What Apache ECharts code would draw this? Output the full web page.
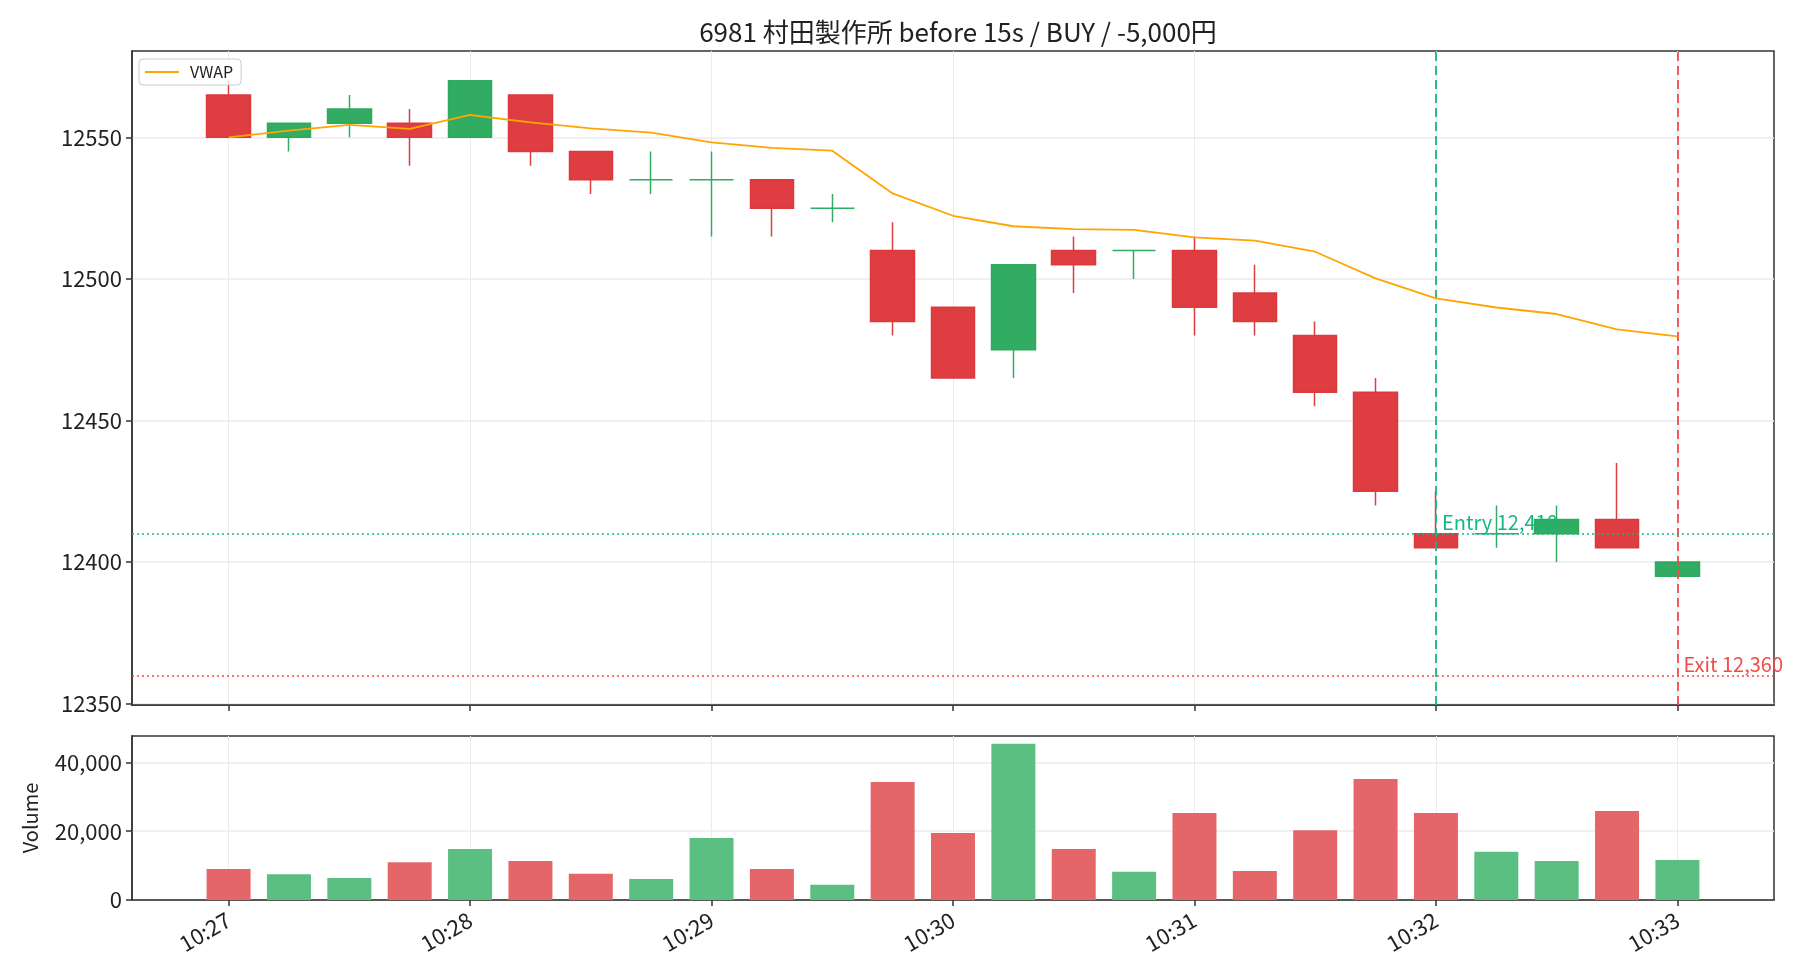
<!DOCTYPE html>
<html>
<head>
<meta charset="utf-8">
<title>6981 村田製作所</title>
<script src="https://cdn.jsdelivr.net/npm/echarts@6/dist/echarts.min.js"></script>
<style>
  html, body { margin: 0; padding: 0; background: #fff; }
  #chart { width: 1820px; height: 980px; }
</style>
</head>
<body>
<div id="chart"></div>
<script>
// 15秒足 (10:27:00 - 10:33:00)
const times = ['10:27:00', '10:27:15', '10:27:30', '10:27:45', '10:28:00', '10:28:15', '10:28:30', '10:28:45',
  '10:29:00', '10:29:15', '10:29:30', '10:29:45', '10:30:00', '10:30:15', '10:30:30', '10:30:45',
  '10:31:00', '10:31:15', '10:31:30', '10:31:45', '10:32:00', '10:32:15', '10:32:30', '10:32:45', '10:33:00'];
const opens = [12565, 12550, 12555, 12555, 12550, 12565, 12545, 12535, 12535, 12535, 12525, 12510, 12490,
  12475, 12510, 12510, 12510, 12495, 12480, 12460, 12410, 12410, 12410, 12415, 12395];
const closes = [12550, 12555, 12560, 12550, 12570, 12545, 12535, 12535, 12535, 12525, 12525, 12485, 12465,
  12505, 12505, 12510, 12490, 12485, 12460, 12425, 12405, 12410, 12415, 12405, 12400];
const lows = [12550, 12545, 12550, 12540, 12550, 12540, 12530, 12530, 12515, 12515, 12520, 12480, 12465,
  12465, 12495, 12500, 12480, 12480, 12455, 12420, 12405, 12405, 12400, 12405, 12395];
const highs = [12570, 12555, 12565, 12560, 12570, 12565, 12545, 12545, 12545, 12535, 12530, 12520, 12490,
  12505, 12515, 12510, 12515, 12505, 12485, 12465, 12425, 12420, 12420, 12435, 12400];
const vwap = [12550, 12552.4, 12554.4, 12553, 12557.9, 12555.3, 12553.2, 12551.7, 12548.2, 12546.3, 12545.3,
  12530.2, 12522.3, 12518.6, 12517.6, 12517.3, 12514.7, 12513.5, 12509.6, 12500.2, 12493.1, 12489.9,
  12487.6, 12482.2, 12479.7];
const volumes = [9000, 7500, 6400, 11000, 14800, 11300, 7600, 6100, 18000, 9000, 4400, 34300, 19500,
  45400, 14800, 8200, 25300, 8400, 20300, 35200, 25300, 14000, 11300, 25900, 11600];

const xTickLabels = ['10:27', '10:28', '10:29', '10:30', '10:31', '10:32', '10:33'];
const priceTicks = [12350, 12400, 12450, 12500, 12550];
const volumeTicks = [0, 20000, 40000];

const entryTime = '10:32:00', entryPrice = 12410;
const exitTime = '10:33:00', exitPrice = 12360;

const FONT = '"Noto Sans CJK JP", "Noto Sans", sans-serif';
const UP = '#27a85a', DOWN = '#dc3438';
const VOL_UP = '#5bbf81', VOL_DOWN = '#e46668';
const ENTRY_C = '#12b981', EXIT_C = '#f24b4b';
const AXIS_C = '#333';

// 10:27 からの経過分
function toX(t) {
  const p = t.split(':').map(Number);
  return p[0] * 60 + p[1] + (p[2] || 0) / 60 - (10 * 60 + 27);
}
const tickX = xTickLabels.map(toX);
function fmtTime(v) {
  const i = tickX.findIndex(x => Math.abs(x - v) < 1e-6);
  return i >= 0 ? xTickLabels[i] : '';
}
const yen = v => v.toLocaleString('en-US');

const xMin = -0.4, xMax = 6.4;

function makeX(gridIndex, showLabel) {
  return {
    type: 'value', gridIndex: gridIndex, min: xMin, max: xMax, splitNumber: 7,
    axisLine: { show: true, onZero: false, lineStyle: { color: AXIS_C, width: 1.5 } },
    axisTick: { show: true, customValues: tickX, length: 6, lineStyle: { color: AXIS_C, width: 1.5 } },
    axisLabel: {
      show: showLabel, customValues: tickX, formatter: fmtTime, rotate: 30, margin: 18,
      fontFamily: FONT, fontSize: 22, color: '#222'
    },
    splitLine: { show: true, lineStyle: { color: '#ebebeb', width: 1 } }
  };
}

const chart = echarts.init(document.getElementById('chart'));

const option = {
  animation: false,
  backgroundColor: '#fff',
  title: {
    text: '6981 村田製作所 before 15s / BUY / -5,000円',
    left: 953, top: 14, textAlign: 'center',
    textStyle: { fontFamily: FONT, fontSize: 26, fontWeight: 'normal', color: '#222' }
  },
  legend: {
    data: ['VWAP'], left: 139, top: 59, icon: 'rect', itemWidth: 34, itemHeight: 2,
    padding: [5, 8, 5, 6], borderColor: '#cccccc', borderWidth: 1, borderRadius: 4,
    backgroundColor: 'rgba(255,255,255,0.8)',
    textStyle: { fontFamily: FONT, fontSize: 16, color: '#222', padding: [0, 0, 0, 6] }
  },
  grid: [
    { left: 132, right: 46, top: 51, height: 654, show: true, borderColor: AXIS_C, borderWidth: 1.5 },
    { left: 132, right: 46, top: 736, height: 164, show: true, borderColor: AXIS_C, borderWidth: 1.5 }
  ],
  xAxis: [makeX(0, false), makeX(1, true)],
  yAxis: [
    {
      type: 'value', gridIndex: 0, min: 12349.5, max: 12580.5, splitNumber: 5, scale: true,
      axisLine: { show: true, onZero: false, lineStyle: { color: AXIS_C, width: 1.5 } },
      axisTick: { show: true, customValues: priceTicks, length: 6, lineStyle: { color: AXIS_C, width: 1.5 } },
      axisLabel: { customValues: priceTicks, formatter: v => String(v), margin: 10,
        fontFamily: FONT, fontSize: 22, color: '#222' },
      splitLine: { show: true, lineStyle: { color: '#ebebeb', width: 1.5 } }
    },
    {
      type: 'value', gridIndex: 1, min: 0, max: 47670, splitNumber: 2,
      name: 'Volume', nameLocation: 'middle', nameGap: 92, nameRotate: 90,
      nameTextStyle: { fontFamily: FONT, fontSize: 20, color: '#222' },
      axisLine: { show: true, onZero: false, lineStyle: { color: AXIS_C, width: 1.5 } },
      axisTick: { show: true, customValues: volumeTicks, length: 6, lineStyle: { color: AXIS_C, width: 1.5 } },
      axisLabel: { customValues: volumeTicks, formatter: yen, margin: 10, fontFamily: FONT, fontSize: 22, color: '#222' },
      splitLine: { show: true, lineStyle: { color: '#ebebeb', width: 1.5 } }
    }
  ],
  series: [
    {
      name: 'Price', type: 'candlestick', xAxisIndex: 0, yAxisIndex: 0,
      data: times.map((t, i) => [toX(t), opens[i], closes[i], lows[i], highs[i]]),
      encode: { x: 0, y: [1, 2, 3, 4] },
      barWidth: 44,
      itemStyle: { color: UP, color0: DOWN, borderColor: UP, borderColor0: DOWN, borderWidth: 1.5, opacity: 0.95 },
      markLine: {
        silent: true, symbol: ['none', 'none'], label: { show: false },
        data: [
          { xAxis: toX(entryTime), lineStyle: { color: ENTRY_C, type: [9, 5], width: 1.8 } },
          { xAxis: toX(exitTime), lineStyle: { color: EXIT_C, type: [9, 5], width: 1.8 } },
          { yAxis: entryPrice, lineStyle: { color: ENTRY_C, type: [2, 3], width: 1.5 } },
          { yAxis: exitPrice, lineStyle: { color: EXIT_C, type: [2, 3], width: 1.5 } }
        ]
      },
      markPoint: {
        silent: true, symbol: 'circle', symbolSize: 0,
        data: [
          {
            coord: [toX(entryTime), entryPrice],
            label: { show: true, formatter: 'Entry ' + yen(entryPrice), position: [6, -1],
              align: 'left', verticalAlign: 'bottom', fontFamily: FONT, fontSize: 20, color: ENTRY_C }
          },
          {
            coord: [toX(exitTime), exitPrice],
            label: { show: true, formatter: 'Exit ' + yen(exitPrice), position: [6, -1],
              align: 'left', verticalAlign: 'bottom', fontFamily: FONT, fontSize: 20, color: EXIT_C }
          }
        ]
      }
    },
    {
      name: 'VWAP', type: 'line', xAxisIndex: 0, yAxisIndex: 0, z: 5,
      data: times.map((t, i) => [toX(t), vwap[i]]),
      symbol: 'none', showSymbol: false,
      lineStyle: { color: '#ffa500', width: 1.8 },
      itemStyle: { color: '#ffa500' }
    },
    {
      name: 'Volume', type: 'bar', xAxisIndex: 1, yAxisIndex: 1, barWidth: 44,
      data: times.map((t, i) => ({
        value: [toX(t), volumes[i]],
        itemStyle: { color: closes[i] >= opens[i] ? VOL_UP : VOL_DOWN }
      }))
    }
  ]
};

chart.setOption(option);
</script>
</body>
</html>
